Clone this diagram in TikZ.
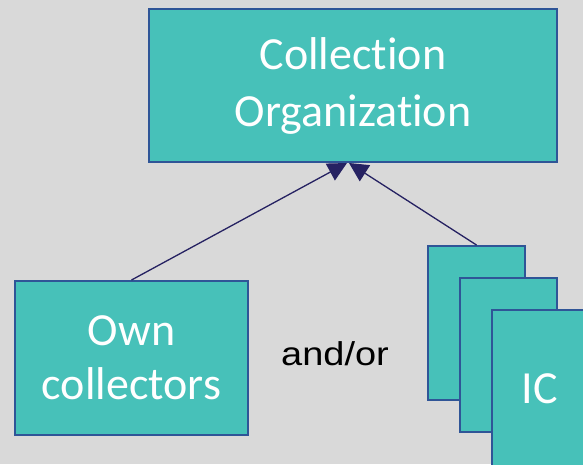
\documentclass[tikz,border=0pt]{standalone}
\usepackage{fontspec}
\setmainfont{Carlito}[Ligatures={NoCommon}]
\newfontfamily\arialfont{Liberation Sans}
\usetikzlibrary{arrows.meta}
\definecolor{bg}{RGB}{217,217,217}
\definecolor{teal1}{RGB}{71,193,185}
\definecolor{edge1}{RGB}{47,85,151}
\definecolor{navy1}{RGB}{38,34,98}
\tikzset{
  tbox/.style={draw=edge1, line width=2pt, fill=teal1, rectangle, inner sep=0pt,
    anchor=north west, text=white, align=center,
    font=\fontsize{46}{57}\selectfont},
  conn/.style={draw=navy1, fill=navy1, line width=1.3pt, arrows={-Triangle[length=19pt,width=19pt]}}
}
\begin{document}
\begin{tikzpicture}[x=1pt,y=-1pt]
\fill[bg] (0,0) rectangle (583,464);
\useasboundingbox (0,0) rectangle (583,464);
\node[tbox, minimum width=408pt, minimum height=153pt] (top) at (148,8) {Collection\\Organization};
\node[tbox, minimum width=233pt, minimum height=154pt, font=\fontsize{46}{54}\selectfont] (own) at (14,280) {Own\\collectors};
\node[tbox, minimum width=97pt, minimum height=154pt] (ic1) at (427,245) {};
\node[tbox, minimum width=97pt, minimum height=154pt] (ic2) at (459,277) {};
\node[tbox, minimum width=100pt, minimum height=160pt] (ic3) at (491,309) {};
\node[text=white, font=\fontsize{46}{55}\selectfont, anchor=base] (iclabel) at (540,403) {IC};
\node[font=\arialfont\fontsize{33}{40}\selectfont, anchor=base] (andor) at (335,365) {\scalebox{1.15}[1]{and/or}};
\coordinate (t1) at (347,163);
\coordinate (t2) at (349,163);
\draw[conn] (own.north) -- (t1);
\draw[conn] (ic1.north) -- (t2);
\end{tikzpicture}
\end{document}
